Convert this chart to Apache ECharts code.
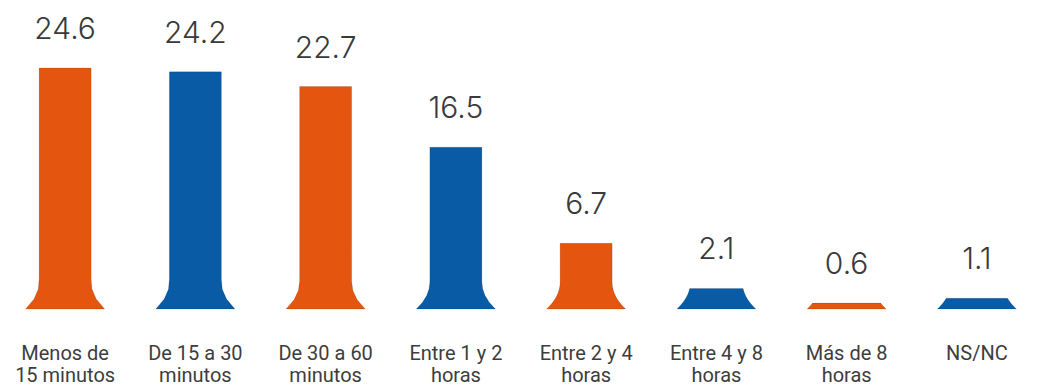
<!DOCTYPE html>
<html>
<head>
<meta charset="utf-8">
<script src="https://cdn.jsdelivr.net/npm/echarts@6/dist/echarts.min.js"></script>
<style>
  html, body { margin: 0; padding: 0; background: #ffffff; }
  #chart { width: 1042px; height: 387px; }
</style>
</head>
<body>
<div id="chart"></div>
<script>
// Tiempo dedicado (%)
const categories = [
  'Menos de\n15 minutos', 'De 15 a 30\nminutos', 'De 30 a 60\nminutos', 'Entre 1 y 2\nhoras',
  'Entre 2 y 4\nhoras', 'Entre 4 y 8\nhoras', 'Más de 8\nhoras', 'NS/NC'
];
const values = [24.6, 24.2, 22.7, 16.5, 6.7, 2.1, 0.6, 1.1];
const valueLabels = ['24.6', '24.2', '22.7', '16.5', '6.7', '2.1', '0.6', '1.1'];
const barColors = ['#E4560F', '#0A5BA6', '#E4560F', '#0A5BA6', '#E4560F', '#0A5BA6', '#E4560F', '#0A5BA6'];

const chart = echarts.init(document.getElementById('chart'), null, { renderer: 'svg' });

// Column with a flared foot: straight shaft, concave curve out to a wider base.
const TOP_W = 52, BASE_W = 79, FLARE_H = 28, CURVE_POW = 2.2;
function halfWidthAt(h) {
  if (h >= FLARE_H) return TOP_W / 2;
  const t = 1 - h / FLARE_H;
  return TOP_W / 2 + (BASE_W - TOP_W) / 2 * Math.pow(t, CURVE_POW);
}

function renderItem(params, api) {
  const idx = api.value(0);
  const val = api.value(1);
  const top = api.coord([idx, val]);
  const base = api.coord([idx, 0]);
  const cx = top[0];
  const height = base[1] - top[1];
  const left = [], right = [];
  const steps = 24;
  for (let i = 0; i <= steps; i++) {
    const h = height * (1 - i / steps);           // from top down to base
    const y = base[1] - h;
    const hw = halfWidthAt(h);
    left.push([cx - hw, y]);
    right.unshift([cx + hw, y]);
  }
  const points = left.concat(right);
  return {
    type: 'group',
    children: [
      {
        type: 'polygon',
        shape: { points: points },
        style: { fill: barColors[idx], stroke: 'rgba(0,0,0,0.15)', lineWidth: 0.8 }
      },
      {
        type: 'text',
        x: cx,
        y: top[1] - 25,
        style: {
          text: valueLabels[idx],
          fill: '#3a3a3a',
          font: '300 30px Inter, "Open Sans", Roboto, sans-serif',
          align: 'center',
          verticalAlign: 'bottom'
        }
      }
    ]
  };
}

chart.setOption({
  backgroundColor: '#ffffff',
  animation: false,
  grid: { left: -7, right: -27, top: 15, bottom: 78, containLabel: false },
  xAxis: {
    type: 'category',
    data: categories,
    axisLine: { show: false },
    axisTick: { show: false },
    axisLabel: {
      interval: 0,
      margin: 33,
      color: '#3d3d3d',
      fontSize: 20,
      lineHeight: 22,
      fontFamily: 'Roboto, "Liberation Sans", sans-serif'
    }
  },
  yAxis: {
    type: 'value',
    min: 0,
    max: 30,
    show: false,
    splitLine: { show: false }
  },
  series: [{
    type: 'custom',
    renderItem: renderItem,
    clip: false,
    data: values.map((v, i) => [i, v])
  }]
});
</script>
</body>
</html>
